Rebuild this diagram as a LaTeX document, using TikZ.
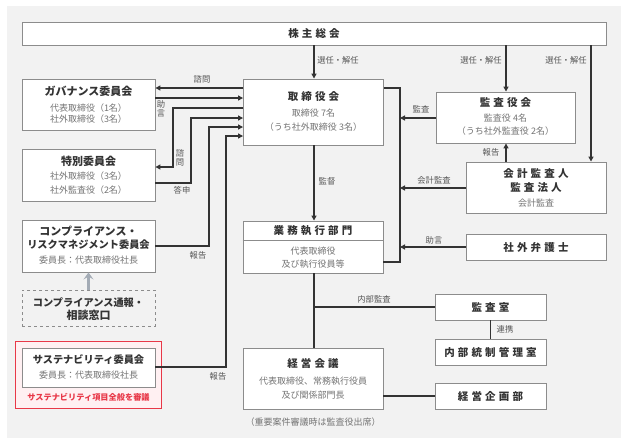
\documentclass[tikz,border=0pt]{standalone}
\usepackage{fontspec}
\setmainfont{Noto Sans CJK JP}
\newfontfamily\widefont[LetterSpace=30]{Noto Sans CJK JP}
\usetikzlibrary{arrows.meta}
\definecolor{bgc}{HTML}{F2F2F2}
\definecolor{txt}{HTML}{333333}
\definecolor{subc}{HTML}{747474}
\definecolor{lblc}{HTML}{555555}
\definecolor{boxc}{HTML}{8C8C8C}
\definecolor{linec}{HTML}{333333}
\definecolor{redc}{HTML}{E83848}
\definecolor{pinkc}{HTML}{FFF0F2}
\definecolor{bluegray}{HTML}{A3ABB5}
\begin{document}
\begin{tikzpicture}[x=1pt,y=-1pt,
  box/.style={draw=boxc, line width=0.9pt, fill=white, inner sep=0pt},
  ttl/.style={font=\bfseries\fontsize{11}{12}\selectfont, text=txt, inner sep=0pt},
  lttl/.style={font=\bfseries\fontsize{10.2}{12}\selectfont, text=txt, inner sep=0pt},
  wttl/.style={font=\widefont\bfseries\fontsize{10.5}{12}\selectfont, text=txt, inner sep=0pt},
  subt/.style={font=\fontsize{9}{10}\selectfont, text=subc, inner sep=0pt},
  lbl/.style={font=\fontsize{8.3}{9}\selectfont, text=lblc, inner sep=0pt},
  vlbl/.style={font=\fontsize{8.3}{9.5}\selectfont, text=lblc, inner sep=0pt, align=center},
  conn/.style={draw=linec, line width=1.3pt},
  arr/.style={conn, -{Triangle[length=5pt,width=5pt]}}
]
\useasboundingbox (0,0) rectangle (627,445);
\fill[bgc] (7,6) rectangle (621,438);

% ---------- boxes ----------
\node[box, minimum width=584pt, minimum height=23pt] (sh) at (314,33.5) {};
\node[box, minimum width=140pt, minimum height=66pt] (tb) at (313.5,112) {};
\node[box, minimum width=139pt, minimum height=51pt] (ka) at (505.5,117.5) {};
\node[box, minimum width=140pt, minimum height=51pt] (ak) at (536,187.5) {};
\node[box, minimum width=140pt, minimum height=26pt] (bg) at (536,247) {};
\node[box, minimum width=140pt, minimum height=52pt] (gs) at (313,247) {};
\node[box, minimum width=140pt, minimum height=61pt] (km) at (313,378.5) {};
\node[box, minimum width=111pt, minimum height=26pt] (ks) at (490.5,307) {};
\node[box, minimum width=111pt, minimum height=26pt] (nt) at (490.5,352) {};
\node[box, minimum width=111pt, minimum height=26pt] (kp) at (490.5,396) {};
\node[box, minimum width=133pt, minimum height=51pt] (gov) at (88.5,104.5) {};
\node[box, minimum width=133pt, minimum height=52pt] (tok) at (88.5,175) {};
\node[box, minimum width=133pt, minimum height=52pt] (comp) at (88.5,246) {};
\node[box, dashed, fill=none, minimum width=133pt, minimum height=36pt] (tsuho) at (88.5,308) {};
\node[draw=redc, line width=0.9pt, fill=pinkc, inner sep=0pt, minimum width=146pt, minimum height=67pt] (red) at (88.5,374.5) {};
\node[box, minimum width=133pt, minimum height=39pt] (sus) at (88.5,367.5) {};

% divider in 業務執行部門
\coordinate (gsdiv) at (313,240);
\draw[draw=boxc, line width=0.9pt] (gs.west |- gsdiv) -- (gs.east |- gsdiv);

% ---------- texts ----------
\node[wttl] (shT) at (314,33.5) {株主総会};
\node[wttl] (tbT) at (313.5,97) {取締役会};
\node[subt] (tbS1) at (313.5,113) {取締役 7名};
\node[subt] (tbS2) at (313.5,127) {（うち社外取締役 3名）};
\node[wttl] (kaT) at (505.5,103) {監査役会};
\node[subt] (kaS1) at (505.5,118) {監査役 4名};
\node[subt] (kaS2) at (505.5,131) {（うち社外監査役 2名）};
\node[wttl] (akT1) at (536,174) {会計監査人};
\node[wttl] (akT2) at (536,188) {監査法人};
\node[subt] (akS) at (536,203) {会計監査};
\node[wttl] (bgT) at (536,247) {社外弁護士};
\node[wttl] (gsT) at (313,231) {業務執行部門};
\node[subt] (gsS1) at (313,251) {代表取締役};
\node[subt] (gsS2) at (313,264) {及び執行役員等};
\node[wttl] (kmT) at (313,363) {経営会議};
\node[subt] (kmS1) at (313,381) {代表取締役、常務執行役員};
\node[subt] (kmS2) at (313,395) {及び関係部門長};
\node[subt] (note) at (313,422) {（重要案件審議時は監査役出席）};
\node[wttl] (ksT) at (490.5,307) {監査室};
\node[wttl] (ntT) at (490.5,352) {内部統制管理室};
\node[wttl] (kpT) at (490.5,396) {経営企画部};
\node[ttl] (govT) at (88.5,91) {ガバナンス委員会};
\node[subt] (govS1) at (88.5,108) {代表取締役（1名）};
\node[subt] (govS2) at (88.5,119) {社外取締役（3名）};
\node[ttl] (tokT) at (88.5,161) {特別委員会};
\node[subt] (tokS1) at (88.5,176) {社外取締役（3名）};
\node[subt] (tokS2) at (88.5,190) {社外監査役（2名）};
\node[ttl] (compT1) at (88.5,231) {コンプライアンス・};
\node[lttl] (compT2) at (88.5,245) {リスクマネジメント委員会};
\node[subt] (compS) at (88.5,260) {委員長：代表取締役社長};
\node[lttl] (tsT1) at (88.5,303) {コンプライアンス通報・};
\node[ttl] (tsT2) at (88.5,315) {相談窓口};
\node[lttl] (susT) at (88.5,360) {サステナビリティ委員会};
\node[subt] (susS) at (88.5,375) {委員長：代表取締役社長};
\node[font=\bfseries\fontsize{8.2}{9}\selectfont, text=redc, inner sep=0pt] (redT) at (88.5,397) {サステナビリティ項目全般を審議};

% ---------- helper coordinates ----------
\coordinate (xa) at (314,0);
\coordinate (xb) at (506,0);
\coordinate (xc) at (591,0);
\coordinate (xbr) at (400,0);
\coordinate (y88) at (0,88);
\coordinate (y98) at (0,98);
\coordinate (y118) at (0,118);
\coordinate (y188) at (0,188);
\coordinate (y247) at (0,247);
\coordinate (y396) at (0,396);
\coordinate (b1) at (173,108);
\coordinate (b2) at (173,167);
\coordinate (b3) at (191,183);
\coordinate (b4) at (191,118);
\coordinate (b5) at (209,246);
\coordinate (b6) at (209,127);
\coordinate (b7) at (226,367);
\coordinate (b8) at (226,136);
\coordinate (brT) at (400,88);
\coordinate (brB) at (400,262);
\coordinate (jn) at (314,307);

% ---------- connectors ----------
\draw[arr] (sh.south -| xa) -- (tb.north -| xa);
\draw[arr] (sh.south -| xb) -- (ka.north -| xb);
\draw[arr] (sh.south -| xc) -- (ak.north -| xc);
\draw[arr] (ak.north -| xb) -- (ka.south -| xb);
\draw[arr] (tb.south -| xa) -- (gs.north -| xa);

% bracket
\draw[conn] (tb.east |- brT) -- (brT) -- (brB) -- (gs.east |- brB);
\draw[arr] (ka.west |- y118) -- (xbr |- y118);
\draw[arr] (ak.west |- y188) -- (xbr |- y188);
\draw[arr] (bg.west |- y247) -- (xbr |- y247);

% lower
\draw[conn] (gs.south -| xa) -- (km.north -| xa);
\draw[conn] (jn) -- (ks.west |- jn);
\draw[conn] (ks.south) -- (nt.north);
\draw[conn] (km.east |- y396) -- (kp.west |- y396);

% left
\draw[arr] (tb.west |- y88) -- (gov.east |- y88);
\draw[arr] (gov.east |- y98) -- (tb.west |- y98);
\draw[arr] (tb.west |- b1) -- (b1) -- (b2) -- (tok.east |- b2);
\draw[arr] (tok.east |- b3) -- (b3) -- (b4) -- (tb.west |- b4);
\draw[arr] (comp.east |- b5) -- (b5) -- (b6) -- (tb.west |- b6);
\draw[arr] (sus.east |- b7) -- (b7) -- (b8) -- (tb.west |- b8);

\draw[draw=bluegray, line width=2.6pt, -{Stealth[length=7pt,width=10pt,inset=3pt]}] (tsuho.north) -- (comp.south);

% ---------- labels ----------
\node[lbl] (l1) at (338,60) {選任・解任};
\node[lbl] (l2) at (481,60) {選任・解任};
\node[lbl] (l3) at (566,60) {選任・解任};
\node[lbl] (l4) at (202,79) {諮問};
\node[vlbl] (l5) at (161,109) {助\\[-1pt]言};
\node[vlbl] (l6) at (180,158) {諮\\[-1pt]問};
\node[lbl] (l7) at (182,190) {答申};
\node[lbl] (l8) at (198,255) {報告};
\node[lbl] (l9) at (218,376) {報告};
\node[lbl] (l10) at (327,181) {監督};
\node[lbl] (l11) at (421,109) {監査};
\node[lbl] (l12) at (434,180) {会計監査};
\node[lbl] (l13) at (434,240) {助言};
\node[lbl] (l14) at (491,152) {報告};
\node[lbl] (l15) at (374,299) {内部監査};
\node[lbl] (l16) at (505,329) {連携};
\end{tikzpicture}
\end{document}
